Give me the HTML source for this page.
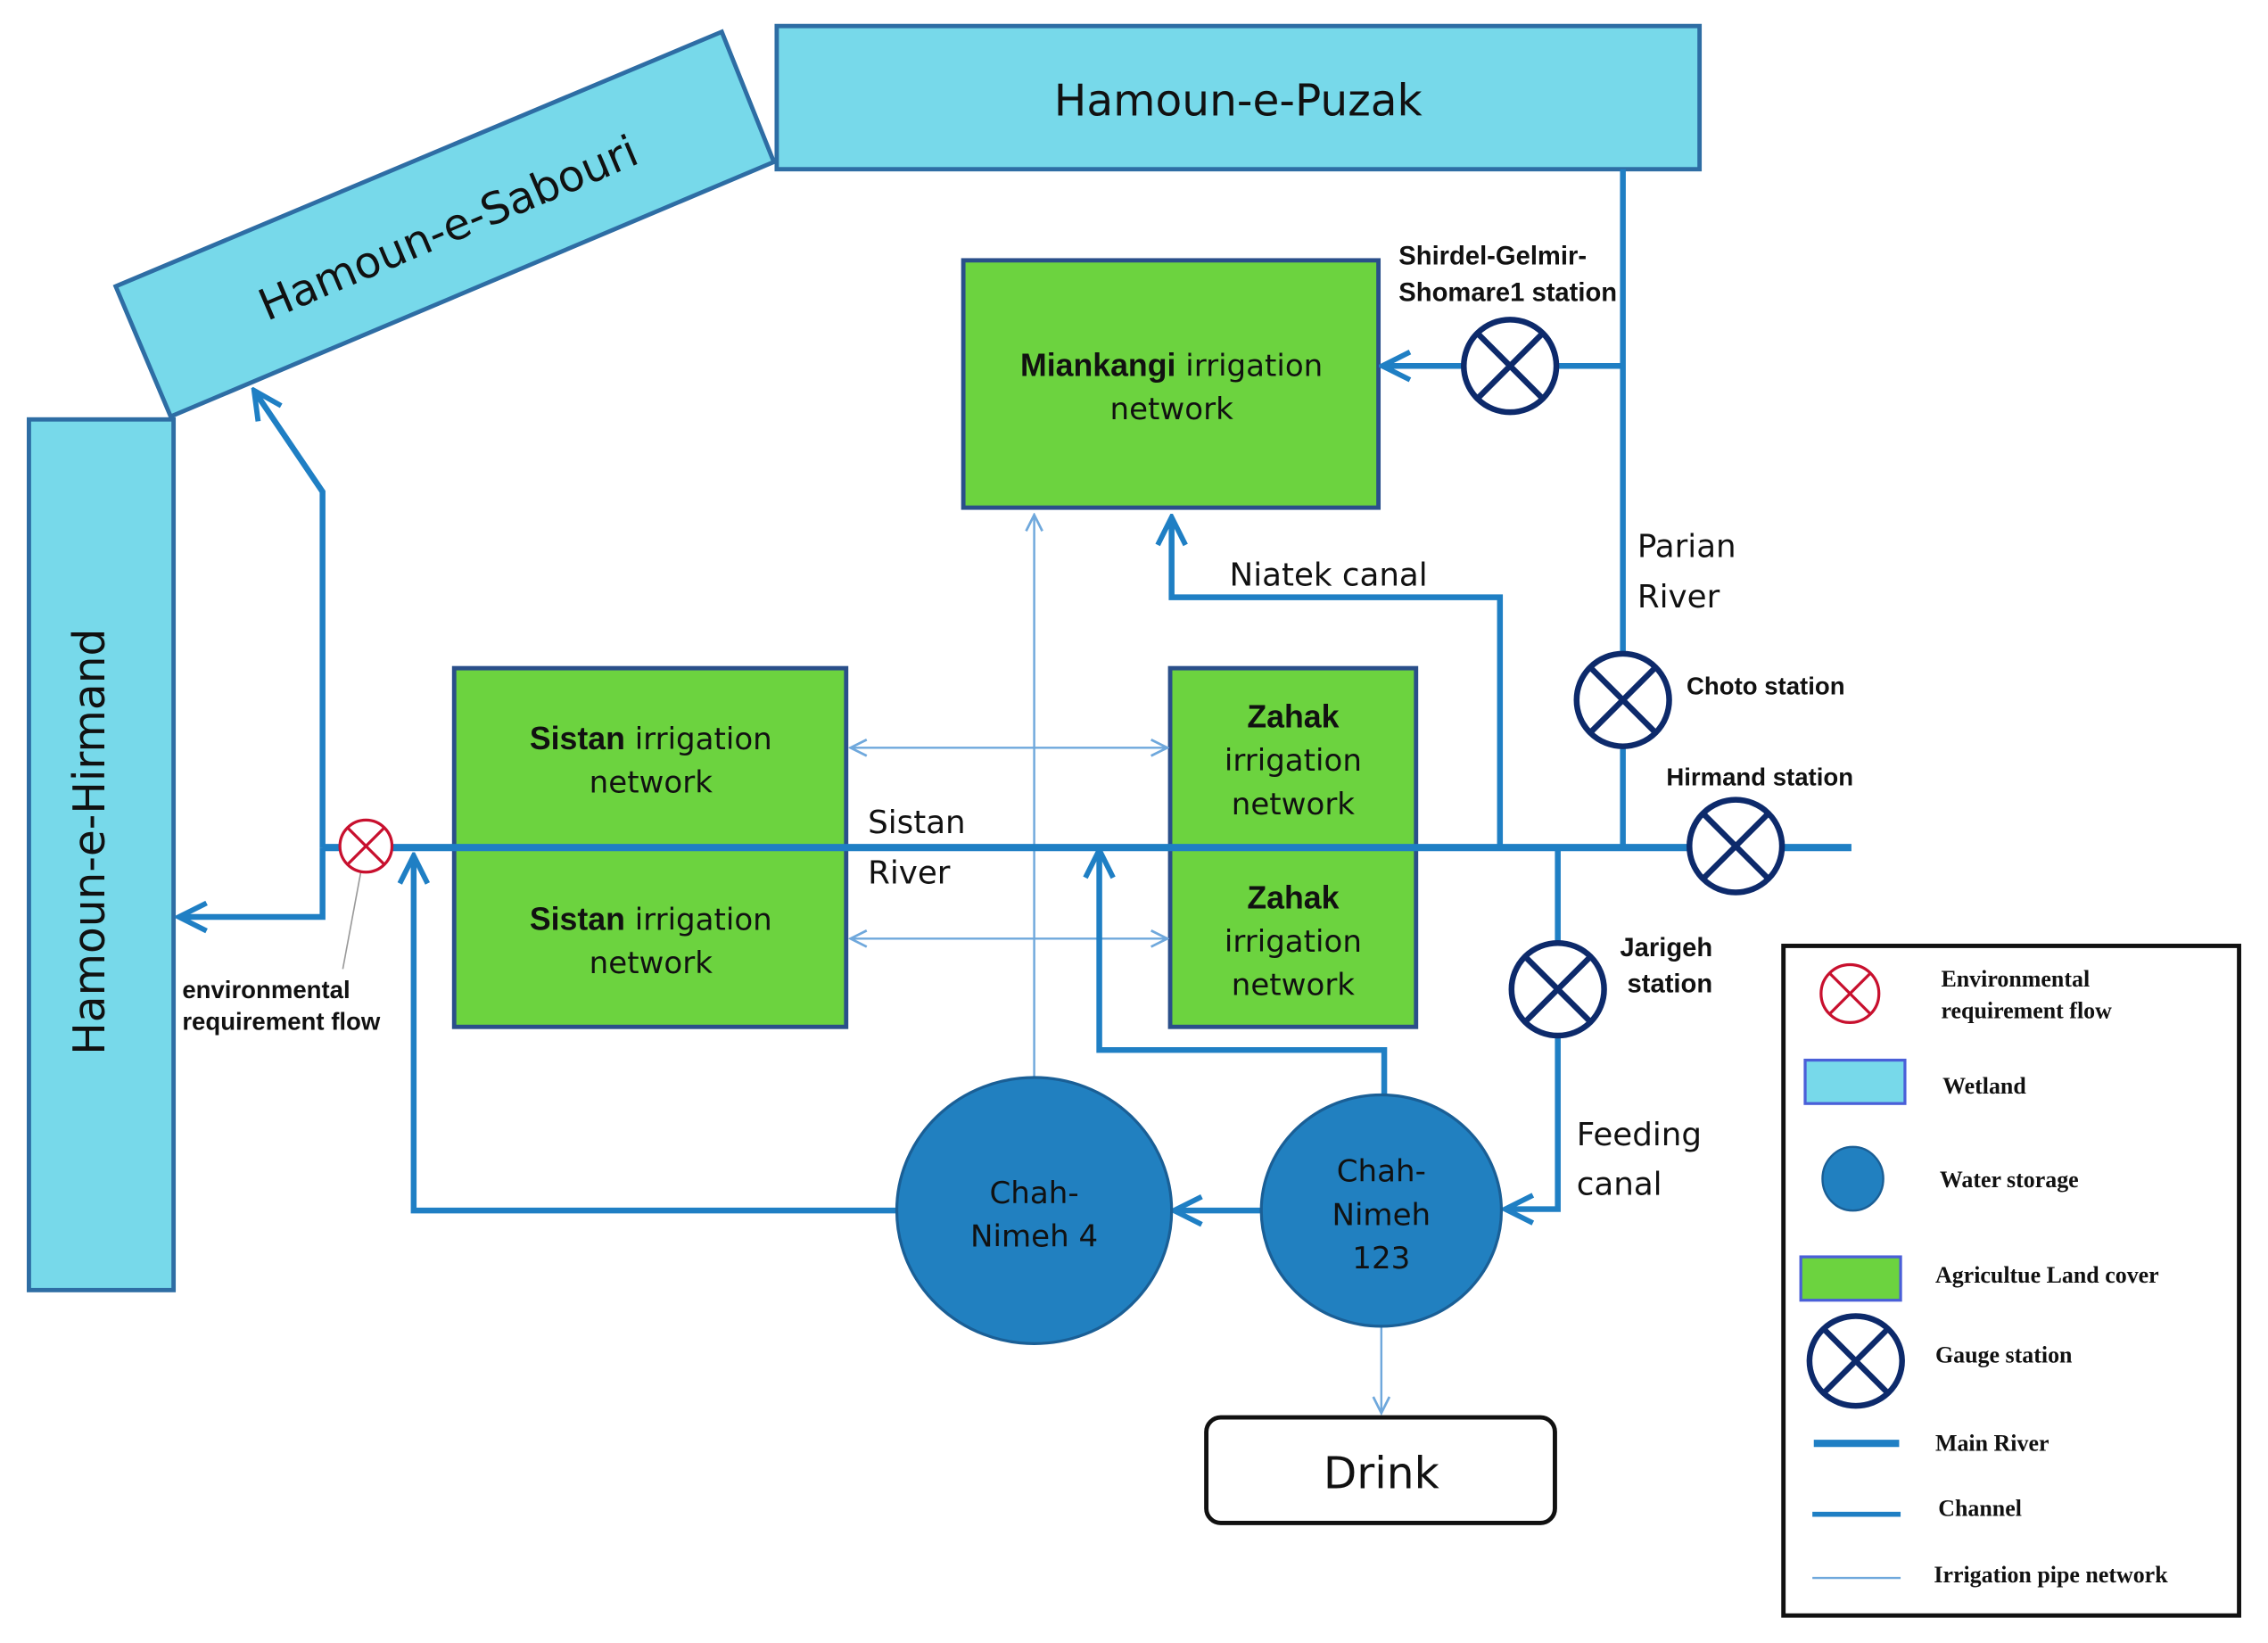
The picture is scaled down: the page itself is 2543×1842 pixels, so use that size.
<!DOCTYPE html>
<html><head><meta charset="utf-8"><style>
html,body{margin:0;padding:0;background:#fff;}
svg{display:block;}
text{font-family:"DejaVu Sans","Liberation Sans",sans-serif;fill:#111;}
.b{font-family:"Liberation Sans",sans-serif;font-weight:bold;}
.lg{font-family:"Liberation Serif",serif;font-weight:bold;font-size:16px;}
</style></head><body>
<svg width="2543" height="1842" viewBox="0 0 1568 1136" preserveAspectRatio="none" xmlns="http://www.w3.org/2000/svg">
<defs>
<marker id="ahb" viewBox="0 0 10 10" refX="8" refY="5" markerWidth="24" markerHeight="24" orient="auto-start-reverse" markerUnits="userSpaceOnUse">
<path d="M1,1 L9,5 L1,9" fill="none" stroke="#1f7fc4" stroke-width="1.5"/></marker>
<marker id="aht" viewBox="0 0 10 10" refX="9" refY="5" markerWidth="14" markerHeight="14" orient="auto-start-reverse" markerUnits="userSpaceOnUse">
<path d="M1,1 L9,5 L1,9" fill="none" stroke="#6fa8dc" stroke-width="1.2"/></marker>
</defs>
<rect x="537" y="18" width="638" height="99" fill="#77d9ea" stroke="#2e6da4" stroke-width="3"/>
<text x="856" y="80" font-size="30" text-anchor="middle">Hamoun-e-Puzak</text>
<polygon points="80,198 499,22 535,112 118,288" fill="#77d9ea" stroke="#2e6da4" stroke-width="3"/>
<text x="310" y="168" font-size="30" text-anchor="middle" transform="rotate(-23 310 158)">Hamoun-e-Sabouri</text>
<rect x="20" y="290" width="100" height="602" fill="#77d9ea" stroke="#2e6da4" stroke-width="3"/>
<text x="82" y="592" font-size="30" text-anchor="middle" transform="rotate(-90 72 592)">Hamoun-e-Hirmand</text>
<rect x="666" y="180" width="287" height="171" fill="#6cd33f" stroke="#2a4f8a" stroke-width="3"/>
<text x="810" y="260" font-size="21" text-anchor="middle"><tspan class="b" font-size="22">Miankangi</tspan> irrigation</text>
<text x="810" y="290" font-size="21" text-anchor="middle">network</text>
<rect x="314" y="462" width="271" height="248" fill="#6cd33f" stroke="#2a4f8a" stroke-width="3"/>
<text x="450" y="518" font-size="21" text-anchor="middle"><tspan class="b" font-size="22">Sistan</tspan> irrigation</text>
<text x="450" y="548" font-size="21" text-anchor="middle">network</text>
<text x="450" y="643" font-size="21" text-anchor="middle"><tspan class="b" font-size="22">Sistan</tspan> irrigation</text>
<text x="450" y="673" font-size="21" text-anchor="middle">network</text>
<rect x="809" y="462" width="170" height="248" fill="#6cd33f" stroke="#2a4f8a" stroke-width="3"/>
<text x="894" y="503" font-size="22" text-anchor="middle" class="b">Zahak</text>
<text x="894" y="533" font-size="21" text-anchor="middle">irrigation</text>
<text x="894" y="563" font-size="21" text-anchor="middle">network</text>
<text x="894" y="628" font-size="22" text-anchor="middle" class="b">Zahak</text>
<text x="894" y="658" font-size="21" text-anchor="middle">irrigation</text>
<text x="894" y="688" font-size="21" text-anchor="middle">network</text>
<g stroke="#6fa8dc" stroke-width="1.5" fill="none">
<line x1="588" y1="517" x2="807" y2="517" marker-start="url(#aht)" marker-end="url(#aht)"/>
<line x1="588" y1="649" x2="807" y2="649" marker-start="url(#aht)" marker-end="url(#aht)"/>
<line x1="715" y1="745" x2="715" y2="356" marker-end="url(#aht)"/>
<line x1="955" y1="918" x2="955" y2="977" marker-end="url(#aht)"/>
<line x1="250" y1="600" x2="237" y2="670" stroke="#999" stroke-width="1"/>
</g>
<g stroke="#1f7fc4" stroke-width="4" fill="none">
<polyline points="223,586 223,634 126,634" marker-end="url(#ahb)"/>
<polyline points="223,586 223,340 177,272" marker-end="url(#ahb)"/>
<line x1="1122" y1="253" x2="958" y2="253" marker-end="url(#ahb)"/>
<polyline points="1037,586 1037,413 810,413 810,360" marker-end="url(#ahb)"/>
<polyline points="1077,586 1077,836 1043,836" marker-end="url(#ahb)"/>
<line x1="872" y1="837" x2="814" y2="837" marker-end="url(#ahb)"/>
<polyline points="620,837 286,837 286,594" marker-end="url(#ahb)"/>
<polyline points="957,757 957,726 760,726 760,590" marker-end="url(#ahb)"/>
<line x1="1122" y1="117" x2="1122" y2="586"/>
<line x1="223" y1="586" x2="1280" y2="586" stroke-width="5"/>
</g>
<ellipse cx="715" cy="837" rx="95" ry="92" fill="#2180c0" stroke="#1a5f96" stroke-width="2"/>
<text x="715" y="832" font-size="21" text-anchor="middle">Chah-</text>
<text x="715" y="862" font-size="21" text-anchor="middle">Nimeh 4</text>
<ellipse cx="955" cy="837" rx="83" ry="80" fill="#2180c0" stroke="#1a5f96" stroke-width="2"/>
<text x="955" y="817" font-size="21" text-anchor="middle">Chah-</text>
<text x="955" y="847" font-size="21" text-anchor="middle">Nimeh</text>
<text x="955" y="877" font-size="21" text-anchor="middle">123</text>
<rect x="834" y="980" width="241" height="73" rx="10" fill="#fff" stroke="#111" stroke-width="3"/>
<text x="955" y="1029" font-size="30" text-anchor="middle">Drink</text>
<g fill="#fff" stroke="#0d2a6b" stroke-width="4">
<circle cx="1044" cy="253" r="32"/><path d="M1021,230L1067,276M1067,230L1021,276"/>
<circle cx="1122" cy="484" r="32"/><path d="M1099,461L1145,507M1145,461L1099,507"/>
<circle cx="1200" cy="585" r="32"/><path d="M1177,562L1223,608M1223,562L1177,608"/>
<circle cx="1077" cy="684" r="32"/><path d="M1054,661L1100,707M1100,661L1054,707"/>
</g>
<g fill="#fff" stroke="#c8102e" stroke-width="2">
<circle cx="253" cy="585" r="18"/><path d="M240,572L266,598M266,572L240,598"/>
</g>
<text x="967" y="183" font-size="18" class="b">Shirdel-Gelmir-</text>
<text x="967" y="208" font-size="18" class="b">Shomare1 station</text>
<text x="850" y="405" font-size="22">Niatek canal</text>
<text x="1132" y="385" font-size="22">Parian</text>
<text x="1132" y="420" font-size="22">River</text>
<text x="1166" y="480" font-size="17" class="b">Choto station</text>
<text x="1152" y="543" font-size="17" class="b">Hirmand station</text>
<text x="1120" y="661" font-size="18" class="b">Jarigeh</text>
<text x="1125" y="686" font-size="18" class="b">station</text>
<text x="600" y="576" font-size="22">Sistan</text>
<text x="600" y="611" font-size="22">River</text>
<text x="1090" y="792" font-size="22">Feeding</text>
<text x="1090" y="826" font-size="22">canal</text>
<text x="126" y="690" font-size="17" class="b">environmental</text>
<text x="126" y="712" font-size="17" class="b">requirement flow</text>
<rect x="1233" y="654" width="315" height="463" fill="#fff" stroke="#111" stroke-width="3"/>
<g fill="#fff" stroke="#c8102e" stroke-width="2">
<ellipse cx="1279" cy="687" rx="20" ry="20"/><path d="M1265,673L1293,701M1293,673L1265,701"/>
</g>
<text x="1342" y="682" class="lg">Environmental</text>
<text x="1342" y="704" class="lg">requirement flow</text>
<rect x="1248" y="733" width="69" height="30" fill="#77d9ea" stroke="#4a5fd8" stroke-width="2"/>
<text x="1343" y="756" class="lg">Wetland</text>
<ellipse cx="1281" cy="815" rx="21" ry="22" fill="#2180c0" stroke="#1a5f96" stroke-width="1.5"/>
<text x="1341" y="821" class="lg">Water storage</text>
<rect x="1245" y="869" width="69" height="30" fill="#6cd33f" stroke="#4a5fd8" stroke-width="2"/>
<text x="1338" y="887" class="lg">Agricultue Land cover</text>
<g fill="#fff" stroke="#0d2a6b" stroke-width="4">
<ellipse cx="1283" cy="941" rx="32" ry="31"/><path d="M1260,918L1306,964M1306,918L1260,964"/>
</g>
<text x="1338" y="942" class="lg">Gauge station</text>
<line x1="1254" y1="998" x2="1313" y2="998" stroke="#1f7fc4" stroke-width="5"/>
<text x="1338" y="1003" class="lg">Main River</text>
<line x1="1253" y1="1047" x2="1314" y2="1047" stroke="#1f7fc4" stroke-width="3.5"/>
<text x="1340" y="1048" class="lg">Channel</text>
<line x1="1253" y1="1091" x2="1314" y2="1091" stroke="#6fa8dc" stroke-width="1.5"/>
<text x="1337" y="1094" class="lg">Irrigation pipe network</text>
</svg>
</body></html>
